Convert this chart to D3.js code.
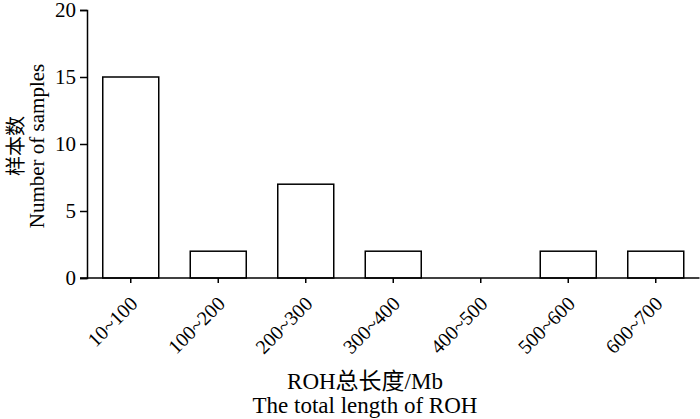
<!DOCTYPE html>
<html>
<head>
<meta charset="utf-8">
<script src="https://cdn.jsdelivr.net/npm/d3@7"></script>
<style>
  body { margin: 0; background: #fff; }
  text { font-family: "Liberation Serif", "Noto Sans CJK SC", serif; fill: #000; }
</style>
</head>
<body>
<div id="chart"></div>
<script>
var categories = ["10~100", "100~200", "200~300", "300~400", "400~500", "500~600", "600~700"];
var counts = [15, 2, 7, 2, 0, 2, 2];
var yTicks = [0, 5, 10, 15, 20];

var width = 700, height = 419;
var margin = {left: 87, right: 0.5, top: 10, bottom: 141};

var svg = d3.select("#chart").append("svg")
  .attr("width", width)
  .attr("height", height);

var x = d3.scaleBand()
  .domain(categories)
  .range([margin.left, width - margin.right])
  .paddingInner(0.36)
  .paddingOuter(0.18);

var y = d3.scaleLinear()
  .domain([0, 20])
  .range([height - margin.bottom, margin.top]);

// bars
svg.append("g").selectAll("rect")
  .data(counts)
  .enter()
  .append("rect")
  .attr("x", function(d, i) { return x(categories[i]); })
  .attr("y", function(d) { return y(d); })
  .attr("width", x.bandwidth())
  .attr("height", function(d) { return y(0) - y(d); })
  .attr("fill", "#fff")
  .attr("stroke", "#000")
  .attr("stroke-width", 1.5);

// y axis
var yAxis = svg.append("g")
  .attr("transform", "translate(" + margin.left + ",0)")
  .call(d3.axisLeft(y).tickValues(yTicks).tickSize(7).tickPadding(4));
yAxis.select(".domain").attr("stroke-width", 1.5);
yAxis.selectAll(".tick line").attr("stroke-width", 1.5);
yAxis.selectAll(".tick text")
  .attr("font-size", "21px")
  .attr("font-family", "Liberation Serif");

// x axis
var xAxis = svg.append("g")
  .attr("transform", "translate(0," + y(0) + ")")
  .call(d3.axisBottom(x).tickSize(5).tickSizeOuter(0));
xAxis.select(".domain").attr("stroke-width", 1.5)
  .attr("d", "M" + (margin.left - 7) + ",0H" + (width - margin.right));
xAxis.selectAll(".tick line").attr("stroke-width", 1.5);
xAxis.selectAll(".tick text")
  .attr("font-size", "20px")
  .attr("font-family", "Liberation Serif")
  .attr("text-anchor", "end")
  .attr("dy", null)
  .attr("y", 0)
  .attr("transform", "translate(8,27) rotate(-45)");

// y title
var yTitle = svg.append("text")
  .attr("transform", "translate(0," + ((y(0) + y(20)) / 2 + 2) + ") rotate(-90)")
  .attr("text-anchor", "middle")
  .attr("font-size", "21px");
yTitle.append("tspan").attr("x", 0).attr("y", 23)
  .style("font-family", "'Noto Sans CJK SC'").attr("font-size", "20px")
  .text("样本数");
yTitle.append("tspan").attr("x", 0).attr("y", 44).text("Number of samples");

// x title
var xTitle = svg.append("text")
  .attr("text-anchor", "middle")
  .attr("font-size", "23px");
xTitle.append("tspan").attr("x", 365).attr("y", 389).text("ROH总长度/Mb");
xTitle.append("tspan").attr("x", 365).attr("y", 413).text("The total length of ROH");
</script>
</body>
</html>
